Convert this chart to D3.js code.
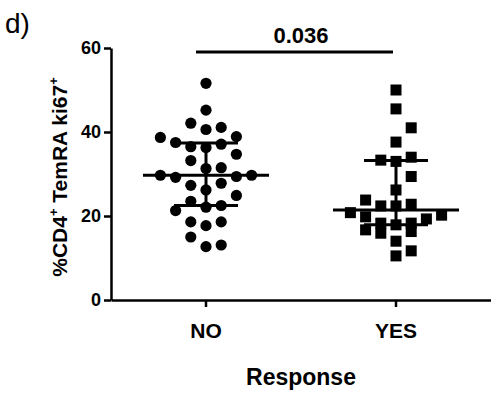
<!DOCTYPE html>
<html><head><meta charset="utf-8">
<script src="https://cdn.jsdelivr.net/npm/d3@7/dist/d3.min.js"></script>
<style>
body{margin:0;background:#fff;}
text{font-family:"Liberation Sans",Arial,Helvetica,sans-serif;}
</style></head>
<body><svg id="c" width="491" height="398"></svg>
<script>
const groups = ["NO", "YES"];
const yTicks = [0, 20, 40, 60];
const noValues = [51.6,45.2,42.1,40.6,41.1,38.7,38.9,37.5,36.5,36.3,37.1,34.7,33.2,31.3,31.5,29.7,29.2,29.4,29.7,27.3,26.2,27.8,24.9,23.5,21.3,22.1,22.5,18.6,17.7,18.6,15.0,12.7,13.1];
const noLanes  = [0,0,-1,0,1,-3,2,-2,-1,0,1,2,-1,0,1,-3,-2,2,3,-1,0,1,2,-1,-2,0,1,-1,0,1,-1,0,1];
const yesValues = [50.0,45.5,41.0,37.6,33.3,33.0,34.0,29.4,26.2,23.8,22.4,22.4,22.8,20.8,19.8,19.3,20.2,18.3,17.9,18.3,16.7,15.9,16.3,14.0,11.7,10.5];
const yesLanes  = [0,0,1,0,-1,0,1,1,0,-2,-1,0,1,-3,-2,2,3,-1,0,1,-2,-1,1,0,1,0];
const medians = [29.7, 21.4];
const q1s = [22.5, 17.9];
const q3s = [37.4, 33.2];
const pValue = "0.036";

const svg = d3.select("#c");
const x = d3.scaleBand().domain(groups).range([111, 491]);
const y = d3.scaleLinear().domain([0, 60]).range([300, 48]);
const lane = 15.2;

// axes
const ya = svg.append("g").attr("transform","translate(111,0)")
  .call(d3.axisLeft(y).tickValues(yTicks).tickSize(7).tickSizeOuter(0).tickPadding(3));
ya.select(".domain").attr("stroke-width",2.5);
ya.selectAll(".tick line").attr("stroke-width",2.5);
ya.selectAll(".tick text").attr("font-size",18).attr("font-weight","bold").attr("fill","#000");

const xa = svg.append("g").attr("transform","translate(0,300)")
  .call(d3.axisBottom(x).tickSize(7).tickSizeOuter(0).tickPadding(16));
xa.select(".domain").attr("stroke-width",2.5);
xa.selectAll(".tick line").attr("stroke-width",2.5);
xa.selectAll(".tick text").attr("font-size",21).attr("font-weight","bold").attr("fill","#000");

// axis titles
svg.append("text").attr("x", x("NO")+x.bandwidth()/2 + 95).attr("y",385)
  .attr("text-anchor","middle").attr("font-size",23).attr("font-weight","bold").text("Response");
const yl = svg.append("text").attr("transform","translate(67,177) rotate(-90)")
  .attr("text-anchor","middle").attr("font-size",21).attr("font-weight","bold");
yl.append("tspan").text("%CD4");
yl.append("tspan").attr("font-size",13).attr("dy",-9).text("+");
yl.append("tspan").attr("dy",9).text(" TemRA ki67");
yl.append("tspan").attr("font-size",13).attr("dy",-9).text("+");

svg.append("text").attr("x",5).attr("y",33).attr("font-size",28).text("d)");

// points
const cx = (g, l) => x(g) + x.bandwidth()/2 + l*lane;
svg.append("g").selectAll("circle").data(noValues).join("circle")
  .attr("cx",(d,i)=>cx("NO",noLanes[i])).attr("cy",d=>y(d)).attr("r",5.6).attr("fill","#000");
const s = 11;
svg.append("g").selectAll("rect").data(yesValues).join("rect")
  .attr("x",(d,i)=>cx("YES",yesLanes[i])-s/2).attr("y",d=>y(d)-s/2)
  .attr("width",s).attr("height",s).attr("fill","#000");

// median + IQR
groups.forEach((g,i)=>{
  const c = x(g)+x.bandwidth()/2;
  const gg = svg.append("g").attr("stroke","#000").attr("stroke-width",3);
  gg.append("line").attr("x1",c-63).attr("x2",c+63).attr("y1",y(medians[i])).attr("y2",y(medians[i]));
  gg.append("line").attr("x1",c-32).attr("x2",c+32).attr("y1",y(q1s[i])).attr("y2",y(q1s[i]));
  gg.append("line").attr("x1",c-32).attr("x2",c+32).attr("y1",y(q3s[i])).attr("y2",y(q3s[i]));
  gg.append("line").attr("x1",c).attr("x2",c).attr("y1",y(q1s[i])).attr("y2",y(q3s[i]));
});

// significance
const x0 = x("NO")+x.bandwidth()/2, x1 = x("YES")+x.bandwidth()/2;
svg.append("line").attr("x1",x0-10).attr("x2",x1-3).attr("y1",52).attr("y2",52)
  .attr("stroke","#000").attr("stroke-width",3);
svg.append("text").attr("x",(x0+x1)/2).attr("y",43).attr("text-anchor","middle")
  .attr("font-size",22).attr("font-weight","bold").text(pValue);
</script></body></html>
